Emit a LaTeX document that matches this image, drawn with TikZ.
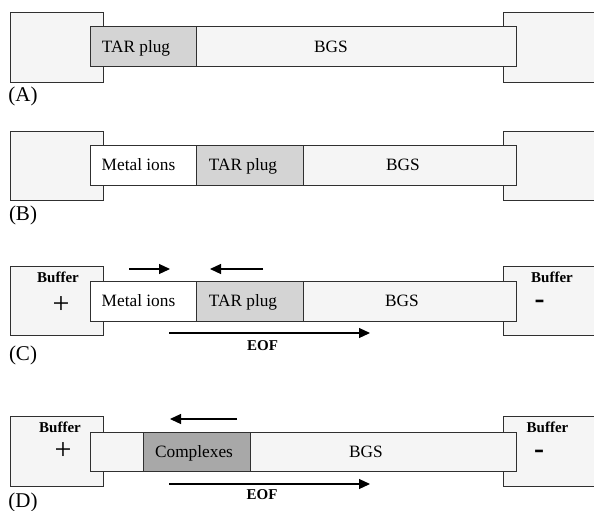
\documentclass[tikz,border=0pt]{standalone}
\usepackage{fontspec}
\setmainfont{Liberation Serif}
\usetikzlibrary{arrows.meta}
\definecolor{resfill}{HTML}{F5F5F5}
\definecolor{tarfill}{HTML}{D4D4D4}
\definecolor{cplxfill}{HTML}{A8A8A8}
\definecolor{edge}{HTML}{303030}
\tikzset{
  reservoir/.style={draw=edge, fill=resfill, line width=1pt, inner sep=0pt, outer sep=0pt, anchor=north west, minimum height=69pt},
  seg/.style={draw=edge, line width=1pt, inner sep=0pt, outer sep=0pt, anchor=north west, minimum height=40pt},
  segtxt/.style={font=\fontsize{17.3}{20}\selectfont, inner sep=0pt, anchor=base},
  buftxt/.style={font=\fontsize{15}{18}\selectfont\bfseries, inner sep=0pt, anchor=base},
  paneltxt/.style={font=\fontsize{21}{24}\selectfont, inner sep=0pt, anchor=base},
  plustxt/.style={font=\fontsize{30}{32}\selectfont, inner sep=0pt, anchor=base},
  minustxt/.style={font=\fontsize{30}{32}\selectfont\bfseries, inner sep=0pt, anchor=base},
  flow/.style={line width=1.2pt, -{Triangle[length=11pt,width=10pt]}}
}
\begin{document}
\begin{tikzpicture}[x=1pt,y=-1pt]
\useasboundingbox (0,0) rectangle (594,511);
\clip (0,0) rectangle (594,511);

% ---------- Panel A ----------
\node[reservoir, minimum width=93pt] (resLA) at (10,13) {};
\node[reservoir, minimum width=120pt] (resRA) at (503,13) {};
\node[seg, fill=tarfill, minimum width=106pt] (tarA) at (90,27) {};
\node[seg, fill=resfill, minimum width=320pt] (bgsA) at (196,27) {};
\node[segtxt] (tarAt) at (136,52.7) {TAR plug};
\node[segtxt] (bgsAt) at (331,52.7) {BGS};
\node[paneltxt] (labA) at (23,101) {(A)};

% ---------- Panel B ----------
\node[reservoir, minimum width=93pt] (resLB) at (10,131) {};
\node[reservoir, minimum width=120pt] (resRB) at (503,131) {};
\node[seg, fill=white, minimum width=106pt] (metB) at (90,145) {};
\node[seg, fill=tarfill, minimum width=107pt] (tarB) at (196,145) {};
\node[seg, fill=resfill, minimum width=213pt] (bgsB) at (303,145) {};
\node[segtxt] (metBt) at (138.5,170.7) {Metal ions};
\node[segtxt] (tarBt) at (243,170.7) {TAR plug};
\node[segtxt] (bgsBt) at (403,170.7) {BGS};
\node[paneltxt] (labB) at (23,220) {(B)};

% ---------- Panel C ----------
\node[reservoir, minimum width=93pt] (resLC) at (10,266) {};
\node[reservoir, minimum width=120pt] (resRC) at (503,266) {};
\node[seg, fill=white, minimum width=106pt] (metC) at (90,281) {};
\node[seg, fill=tarfill, minimum width=107pt] (tarC) at (196,281) {};
\node[seg, fill=resfill, minimum width=213pt] (bgsC) at (303,281) {};
\node[segtxt] (metCt) at (138.5,306.7) {Metal ions};
\node[segtxt] (tarCt) at (243,306.7) {TAR plug};
\node[segtxt] (bgsCt) at (402,306.7) {BGS};
\node[buftxt] (bufLC) at (58,282) {Buffer};
\node[buftxt] (bufRC) at (552,282) {Buffer};
\node[plustxt] (plusC) at (61,313.6) {+};
\node[minustxt] (minusC) at (539.5,308) {-};
\coordinate (mAC1) at (129,269);
\coordinate (mAC2) at (170,269);
\coordinate (tAC1) at (263,269);
\coordinate (tAC2) at (210,269);
\coordinate (eofC1) at (169,333);
\coordinate (eofC2) at (370,333);
\draw[flow] (mAC1) -- (mAC2);
\draw[flow] (tAC1) -- (tAC2);
\draw[flow] (eofC1) -- (eofC2);
\node[buftxt] (eofCt) at (262.5,350) {EOF};
\node[paneltxt] (labC) at (23,360) {(C)};

% ---------- Panel D ----------
\node[reservoir, minimum width=93pt, minimum height=70pt] (resLD) at (10,416) {};
\node[reservoir, minimum width=120pt, minimum height=70pt] (resRD) at (503,416) {};
\node[seg, fill=resfill, minimum width=53pt, minimum height=39pt] (emptyD) at (90,432) {};
\node[seg, fill=cplxfill, minimum width=107pt, minimum height=39pt] (cplxD) at (143,432) {};
\node[seg, fill=resfill, minimum width=266pt, minimum height=39pt] (bgsD) at (250,432) {};
\node[segtxt] (cplxDt) at (194,457) {Complexes};
\node[segtxt] (bgsDt) at (366,457) {BGS};
\node[buftxt] (bufLD) at (60,432) {Buffer};
\node[buftxt] (bufRD) at (547.5,432) {Buffer};
\node[plustxt] (plusD) at (63,459) {+};
\node[minustxt] (minusD) at (539,458) {-};
\coordinate (cAD1) at (237,419);
\coordinate (cAD2) at (170,419);
\coordinate (eofD1) at (169,484);
\coordinate (eofD2) at (370,484);
\draw[flow] (cAD1) -- (cAD2);
\draw[flow] (eofD1) -- (eofD2);
\node[buftxt] (eofDt) at (262,499) {EOF};
\node[paneltxt] (labD) at (23,507) {(D)};
\end{tikzpicture}
\end{document}
